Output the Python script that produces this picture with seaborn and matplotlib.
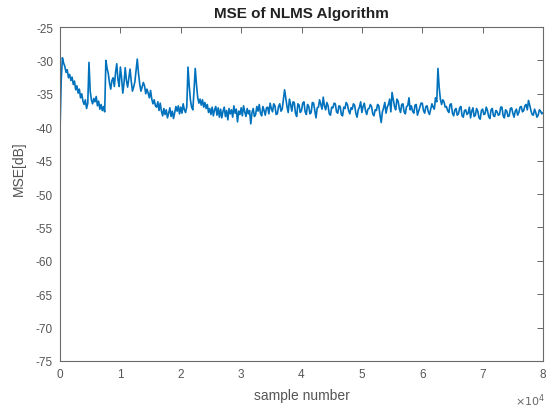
import numpy as np
import pandas as pd
import matplotlib
matplotlib.use("Agg")
import matplotlib.pyplot as plt
from matplotlib.ticker import FuncFormatter, MultipleLocator
import seaborn as sns

# NLMS learning curve: MSE in dB, one value every `sample_step` samples
sample_step = 200
mse_db = [
    -40.5, -33.0, -29.6, -30.4, -30.9, -31.8, -31.4, -32.6, -32.1, -33.0,
    -32.5, -33.6, -33.1, -34.4, -33.8, -34.9, -34.3, -35.6, -35.0, -36.1,
    -36.6, -35.9, -37.2, -36.4, -30.3, -34.6, -35.9, -36.5, -35.7, -36.2,
    -35.4, -36.8, -36.1, -37.3, -36.6, -37.5, -36.9, -37.7, -30.0, -31.2,
    -32.0, -33.4, -34.3, -33.0, -32.6, -33.9, -31.8, -30.5, -32.9, -33.9,
    -31.0, -32.6, -34.9, -33.4, -31.1, -33.0, -34.0, -32.6, -31.3, -33.1,
    -34.6, -34.0, -33.2, -31.5, -29.8, -31.9, -33.5, -34.6, -34.0, -33.3,
    -33.8, -35.0, -34.3, -34.9, -35.6, -34.5, -35.8, -36.5, -35.9, -36.8,
    -37.0, -36.2, -37.5, -36.4, -37.6, -38.3, -37.2, -38.1, -37.4, -38.6,
    -37.9, -37.1, -38.4, -37.6, -38.7, -37.8, -36.9, -37.6, -36.8, -38.0,
    -37.0, -37.9, -36.5, -37.4, -37.8, -36.9, -31.0, -33.8, -35.9, -37.0,
    -37.4, -34.5, -31.2, -33.6, -35.5, -36.4, -35.8, -36.7, -35.9, -37.0,
    -36.3, -37.2, -36.6, -37.8, -37.2, -38.1, -37.0, -38.3, -37.4, -36.9,
    -38.2, -37.1, -38.5, -37.3, -38.6, -37.6, -37.0, -38.4, -37.5, -38.9,
    -37.2, -38.0, -37.4, -38.5, -36.8, -37.9, -37.3, -39.2, -37.6, -38.1,
    -37.1, -38.3, -36.8, -37.7, -38.4, -37.2, -38.0, -37.5, -39.5, -37.8,
    -37.2, -38.4, -38.1, -36.9, -37.6, -36.6, -37.9, -38.3, -36.9, -37.5,
    -38.2, -37.1, -37.0, -38.0, -36.4, -37.2, -37.7, -36.5, -36.8, -38.1,
    -38.0, -36.9, -36.5, -37.6, -37.3, -35.9, -34.4, -35.6, -36.9, -37.8,
    -35.8, -36.6, -37.6, -36.2, -36.3, -37.9, -38.4, -36.5, -36.7, -37.8,
    -37.5, -36.4, -36.2, -37.7, -38.1, -36.6, -36.9, -38.0, -37.8, -36.3,
    -36.4, -37.5, -38.6, -37.1, -37.0, -35.9, -36.6, -37.3, -35.5, -36.8,
    -37.4, -36.3, -36.8, -38.0, -38.2, -37.0, -37.1, -36.4, -36.5, -37.7,
    -37.9, -36.8, -36.9, -38.1, -38.3, -37.0, -37.2, -36.3, -36.6, -37.5,
    -38.0, -37.1, -37.3, -36.5, -36.7, -37.9, -38.5, -37.4, -37.0, -36.2,
    -37.8, -36.9, -36.4, -37.5, -38.1, -37.3, -37.2, -36.6, -36.9, -38.0,
    -38.3, -37.4, -37.5, -36.6, -36.8, -38.2, -39.3, -37.7, -37.1, -36.3,
    -37.9, -37.0, -36.6, -35.8, -37.7, -34.8, -35.9, -36.9, -37.4, -35.8,
    -36.1, -37.2, -37.8, -36.6, -36.5, -37.7, -38.0, -36.9, -36.8, -35.6,
    -37.4, -36.8, -37.6, -37.9, -36.7, -36.6, -38.2, -37.6, -37.0, -36.4,
    -36.4, -37.5, -37.9, -36.9, -36.8, -37.7, -38.1, -37.3, -36.5, -37.0,
    -37.3, -35.6, -36.2, -31.2, -34.0, -35.8, -36.6, -35.9, -36.2, -37.0,
    -36.9, -37.5, -37.8, -36.6, -36.5, -37.9, -38.3, -37.4, -37.2, -38.2,
    -38.0, -37.1, -36.9, -38.3, -38.5, -37.5, -37.4, -38.1, -37.9, -37.0,
    -38.6, -37.6, -37.1, -38.4, -38.2, -37.2, -37.6, -38.6, -38.8, -37.5,
    -37.3, -38.1, -38.0, -37.0, -37.5, -38.4, -38.7, -37.4, -37.2, -38.3,
    -38.4, -37.5, -37.7, -38.2, -38.1, -37.0, -37.0, -38.3, -38.6, -37.4,
    -37.6, -38.4, -38.3, -37.2, -37.1, -37.9, -38.5, -37.6, -37.3, -38.2,
    -37.8, -37.0, -36.9, -37.7, -37.5, -36.8, -36.6, -37.4, -36.0, -36.7,
    -37.5, -38.1, -38.2, -37.3, -37.8, -38.5, -38.2, -37.4, -37.6, -38.0,
    -37.8,
]
y_ticks = [-75, -70, -65, -60, -55, -50, -45, -40, -35, -30, -25]

df = pd.DataFrame({
    "sample": np.arange(len(mse_db)) * sample_step,
    "mse": mse_db,
})

sns.set_style("white")
plt.rcParams["font.family"] = ["Liberation Sans", "DejaVu Sans"]
plt.rcParams["axes.unicode_minus"] = False

fig = plt.figure(figsize=(5.46, 4.10), dpi=100)
ax = fig.add_axes([60 / 546, 1 - 362 / 410, (543 - 60) / 546, (362 - 28) / 410])

sns.lineplot(data=df, x="sample", y="mse", ax=ax, color="#0072BD",
             linewidth=1.2, estimator=None)

ax.set_xlim(0, 80000)
ax.set_ylim(-75, -25)
ax.xaxis.set_major_locator(MultipleLocator(10000))
ax.xaxis.set_major_formatter(FuncFormatter(lambda v, p: f"{v / 1e4:g}"))
ax.set_yticks(y_ticks)

ax.tick_params(direction="in", length=4, width=0.7, top=True, right=True,
               labelsize=8.5, colors="#666666", labelcolor="#555555", pad=5)
for sp in ax.spines.values():
    sp.set_visible(True)
    sp.set_color("#6a6a6a")
    sp.set_linewidth(0.8)

ax.set_title("MSE of NLMS Algorithm", fontsize=11, fontweight="bold",
             color="#222222", pad=7)
ax.set_xlabel("sample number", fontsize=10, color="#555555", labelpad=6)
ax.set_ylabel("MSE[dB]", fontsize=10, color="#555555")
ax.yaxis.set_label_coords(-0.070, 0.58)
fig.text(530 / 546, 1 - 401 / 410, r"$\times10^{4}$", fontsize=8,
         color="#666666", ha="center", va="center")

fig.savefig("out.png", dpi=100)
